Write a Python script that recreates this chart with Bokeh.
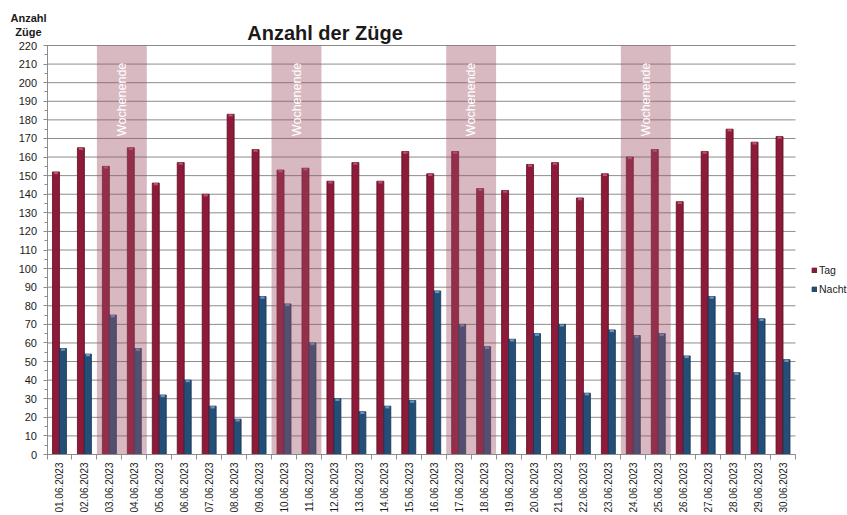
import numpy as np
from bokeh.plotting import figure
from bokeh.models import (Range1d, FixedTicker, Label, Legend, LegendItem)
from bokeh.core.properties import value
from bokeh.embed import file_html
from bokeh.resources import INLINE

dates = ["01.06.2023", "02.06.2023", "03.06.2023", "04.06.2023", "05.06.2023",
         "06.06.2023", "07.06.2023", "08.06.2023", "09.06.2023", "10.06.2023",
         "11.06.2023", "12.06.2023", "13.06.2023", "14.06.2023", "15.06.2023",
         "16.06.2023", "17.06.2023", "18.06.2023", "19.06.2023", "20.06.2023",
         "21.06.2023", "22.06.2023", "23.06.2023", "24.06.2023", "25.06.2023",
         "26.06.2023", "27.06.2023", "28.06.2023", "29.06.2023", "30.06.2023"]
tag = [152, 165, 155, 165, 146, 157, 140, 183, 164, 153,
       154, 147, 157, 147, 163, 151, 163, 143, 142, 156,
       157, 138, 151, 160, 164, 136, 163, 175, 168, 171]
nacht = [57, 54, 75, 57, 32, 40, 26, 19, 85, 81,
         60, 30, 23, 26, 29, 88, 70, 58, 62, 65,
         70, 33, 67, 64, 65, 53, 85, 44, 73, 51]
weekends = ["03.06.2023", "10.06.2023", "17.06.2023", "24.06.2023"]  # Sa-So pairs
weekend_label = "Wochenende"
y_max = 220
y_ticks = list(range(0, y_max + 1, 10))

n = len(dates)
idx = np.arange(n)
centers = idx + 0.5

# canvas and plot-area geometry (pixels)
W, H = 847, 515
PL, PR, PT, PB = 46.5, 795.0, 45.0, 454.0
xs = (PR - PL) / n
ys = (PB - PT) / y_max
x_range = Range1d(-PL / xs, n + (W - PR) / xs)
y_range = Range1d(-(H - PB) / ys, y_max + PT / ys)

p = figure(width=W, height=H, output_backend="svg", toolbar_location=None,
           x_range=x_range, y_range=y_range,
           min_border_left=0, min_border_right=0, min_border_top=0,
           min_border_bottom=0)
p.outline_line_color = None
p.background_fill_color = "white"
p.border_fill_color = "white"
p.xgrid.grid_line_color = None
p.ygrid.grid_line_color = None

# horizontal grid lines across the plot area
p.segment(x0=[0] * len(y_ticks), x1=[n] * len(y_ticks), y0=y_ticks, y1=y_ticks,
          line_color="#8c8c8c", line_width=1)

# y axis
p.yaxis.fixed_location = 0
p.yaxis.bounds = (0, y_max)
p.yaxis.ticker = FixedTicker(ticks=y_ticks, minor_ticks=list(range(5, y_max, 10)))
p.yaxis.axis_line_color = "#8c8c8c"
p.yaxis.major_tick_line_color = "#8c8c8c"
p.yaxis.minor_tick_line_color = "#8c8c8c"
p.yaxis.major_tick_out = 4
p.yaxis.major_tick_in = 0
p.yaxis.minor_tick_out = 3
p.yaxis.minor_tick_in = 0
p.yaxis.major_label_text_font = "Liberation Sans"
p.yaxis.major_label_text_font_size = "11px"
p.yaxis.major_label_text_color = "#1a1a1a"
p.yaxis.major_label_standoff = 6

# x axis: labels at category centres, tick marks at category boundaries
p.xaxis.fixed_location = 0
p.xaxis.bounds = (0, n)
p.xaxis.ticker = FixedTicker(ticks=list(centers), minor_ticks=list(range(0, n + 1)))
p.xaxis.major_label_overrides = {float(c): d for c, d in zip(centers, dates)}
p.xaxis.major_label_orientation = np.pi / 2
p.xaxis.axis_line_color = "#8c8c8c"
p.xaxis.major_tick_line_color = None
p.xaxis.major_tick_out = 0
p.xaxis.major_tick_in = 0
p.xaxis.minor_tick_line_color = "#8c8c8c"
p.xaxis.minor_tick_out = 5
p.xaxis.minor_tick_in = 0
p.xaxis.major_label_text_font = "Liberation Sans"
p.xaxis.major_label_text_font_size = "10px"
p.xaxis.major_label_text_color = "#1a1a1a"
p.xaxis.major_label_standoff = 3

# bars
off = 0.14
bw = 0.28
r_tag = p.vbar(x=centers - off, top=tag, bottom=0, width=bw,
               fill_color="#8c1a38", line_color="#5c0f22", line_width=0.8)
r_nacht = p.vbar(x=centers + off, top=nacht, bottom=0, width=bw,
                 fill_color="#234e77", line_color="#16334f", line_width=0.8)
# highlight caps
p.vbar(x=centers - off, top=tag, bottom=np.array(tag) - 1.2, width=bw * 0.6,
       fill_color="#c0506e", line_color=None)
p.vbar(x=centers + off, top=nacht, bottom=np.array(nacht) - 1.2, width=bw * 0.6,
       fill_color="#6d94bd", line_color=None)

# weekend bands (drawn over bars, translucent)
wk_idx = np.array([dates.index(d) for d in weekends])
p.quad(left=wk_idx, right=wk_idx + 2, bottom=0, top=y_max,
       fill_color="#9e5067", fill_alpha=0.4, line_color=None)
p.text(x=wk_idx + 1, y=[191] * len(wk_idx), text=[weekend_label] * len(wk_idx),
       angle=np.pi / 2, text_align="center", text_baseline="middle",
       text_color="white", text_font_size="12.5px",
       text_font=value("Liberation Sans"))

# titles (screen units, measured from bottom-left of the canvas-sized frame)
p.add_layout(Label(x=324.5, y=H - 32, x_units="screen", y_units="screen",
                   text="Anzahl der Züge", text_font="Liberation Sans",
                   text_font_size="20px", text_font_style="bold",
                   text_align="center", text_baseline="middle",
                   text_color="#1a1a1a"))
p.add_layout(Label(x=28, y=H - 17, x_units="screen", y_units="screen",
                   text="Anzahl", text_font="Liberation Sans",
                   text_font_size="11px", text_font_style="bold",
                   text_align="center", text_baseline="middle",
                   text_color="#1a1a1a"))
p.add_layout(Label(x=28, y=H - 31, x_units="screen", y_units="screen",
                   text="Züge", text_font="Liberation Sans",
                   text_font_size="11px", text_font_style="bold",
                   text_align="center", text_baseline="middle",
                   text_color="#1a1a1a"))

legend = Legend(items=[LegendItem(label="Tag", renderers=[r_tag]),
                       LegendItem(label="Nacht", renderers=[r_nacht])],
                location=(811, H - 295), orientation="vertical",
                glyph_width=6, glyph_height=6, label_standoff=2,
                label_height=13, spacing=6, padding=0, margin=0,
                border_line_color=None, background_fill_alpha=0,
                label_text_font="Liberation Sans", label_text_font_size="10.5px",
                label_text_color="#1a1a1a")
p.add_layout(legend, "center")

open("out.html", "w").write(file_html(p, INLINE))
